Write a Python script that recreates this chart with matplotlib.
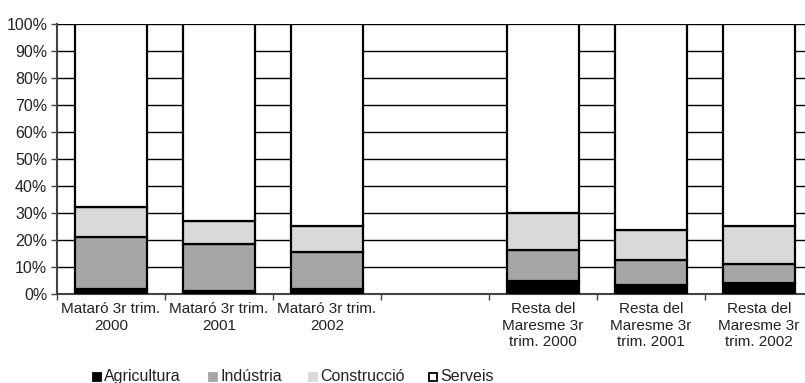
import numpy as np
import matplotlib.pyplot as plt
from matplotlib.patches import Rectangle
from matplotlib.ticker import PercentFormatter

plt.rcParams['font.family'] = ['Liberation Sans', 'DejaVu Sans']

# categories (the empty one is the gap between the two groups)
categories = ['Mataró 3r trim.\n2000', 'Mataró 3r trim.\n2001', 'Mataró 3r trim.\n2002', '',
              'Resta del\nMaresme 3r\ntrim. 2000', 'Resta del\nMaresme 3r\ntrim. 2001',
              'Resta del\nMaresme 3r\ntrim. 2002']
agricultura = [1.9, 1.0, 1.9, 0, 4.7, 3.3, 4.1]
industria = [19.1, 17.5, 13.8, 0, 11.7, 9.3, 7.0]
construccio = [11.1, 8.6, 9.6, 0, 13.5, 11.2, 14.2]
serveis = [67.9, 72.9, 74.7, 0, 70.1, 76.2, 74.7]

series = [('Agricultura', agricultura, '#000000'),
          ('Indústria', industria, '#a6a6a6'),
          ('Construcció', construccio, '#d9d9d9'),
          ('Serveis', serveis, '#ffffff')]

W, H = 805, 383
fig = plt.figure(figsize=(W / 100, H / 100), dpi=100)
ax = fig.add_axes([57/W, 89/H, 756/W, 270/H])

x = np.arange(len(categories))
total = np.sum([s[1] for s in series], axis=0)
keep = total > 0  # the gap slot has no bar
bottom = np.zeros(len(categories))
for name, vals, col in series:
    v = np.array(vals, dtype=float)
    ax.bar(x[keep], v[keep], width=0.67, bottom=bottom[keep], color=col,
           edgecolor='black', linewidth=1.6, zorder=3)
    bottom += v

ax.set_xlim(-0.5, len(categories) - 0.5)
ax.set_ylim(0, 100)
ax.set_yticks(np.arange(0, 101, 10))
ax.yaxis.set_major_formatter(PercentFormatter(decimals=0))
ax.grid(axis='y', color='black', linewidth=1, zorder=0)

ax.set_xticks(x)
ax.set_xticklabels(categories, fontsize=11, color='#222222')
ax.set_xticks(np.arange(-0.5, len(categories), 1), minor=True)
ax.tick_params(axis='x', which='major', length=0, pad=6)
ax.tick_params(axis='x', which='minor', length=4, width=1, color='#444444')
ax.tick_params(axis='y', length=4, width=1, color='#444444', labelsize=11.5,
               labelcolor='#222222', pad=3)

for s in ['top', 'right']:
    ax.spines[s].set_visible(False)
ax.spines['left'].set_color('#444444')
ax.spines['left'].set_linewidth(1.5)
ax.spines['bottom'].set_color('#444444')
ax.spines['bottom'].set_linewidth(1.5)

# legend laid out by hand, spaced like the original
leg_x = [92, 208, 308, 428]
leg_base = 381
for (name, vals, col), lx in zip(series, leg_x):
    fig.patches.append(Rectangle(((lx + 0.5) / W, (H - leg_base) / H), 8 / W, 8 / H,
                                 transform=fig.transFigure, facecolor=col,
                                 edgecolor='black' if name == 'Serveis' else col,
                                 linewidth=1.3))
    fig.text((lx + 12) / W, (H - leg_base) / H, name, fontsize=11.5, color='#222222',
             va='baseline', ha='left')

fig.savefig('out.png', dpi=100)
